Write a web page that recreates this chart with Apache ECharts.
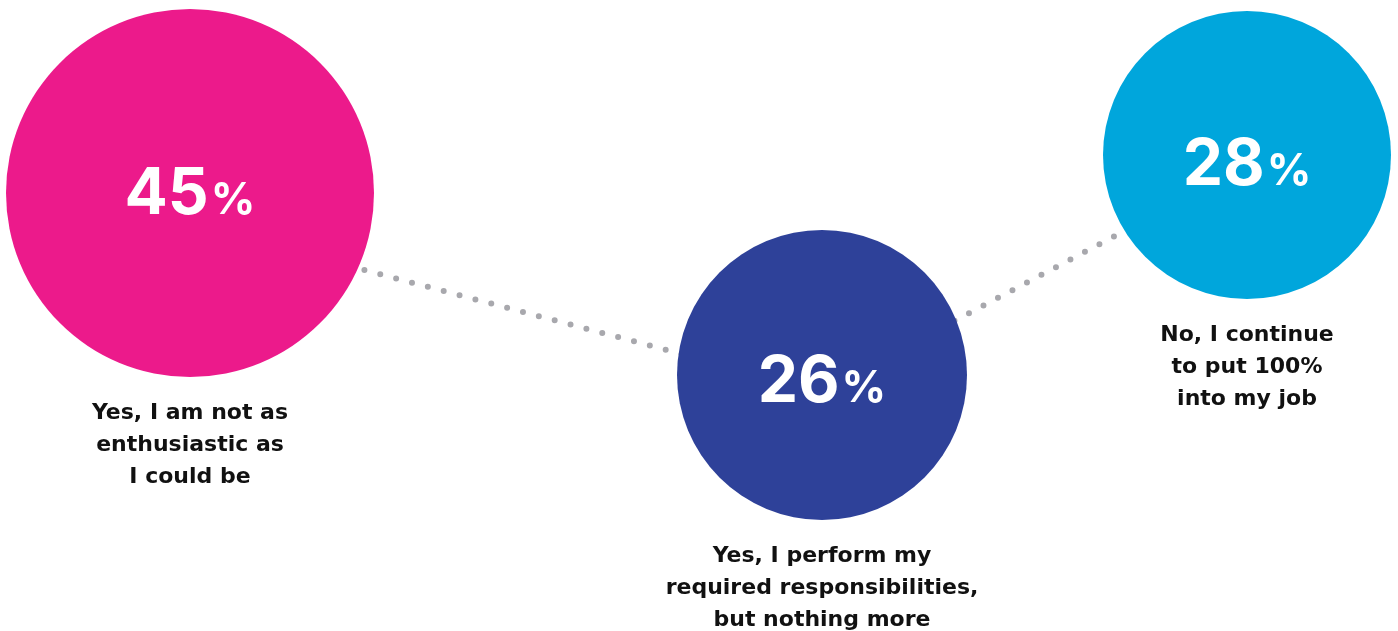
<!DOCTYPE html>
<html>
<head>
<meta charset="utf-8">
<script src="https://cdn.jsdelivr.net/npm/echarts@6/dist/echarts.min.js"></script>
<style>
  html, body { margin: 0; padding: 0; background: #fff; }
  #chart { width: 1398px; height: 631px; }
</style>
</head>
<body>
<div id="chart"></div>
<script>
  // 数据
  const answers = [
    'Yes, I am not as\nenthusiastic as\nI could be',
    'Yes, I perform my\nrequired responsibilities,\nbut nothing more',
    'No, I continue\nto put 100%\ninto my job'
  ];
  const shares = [45, 26, 28];
  const colors = ['#ec1a8b', '#2e4199', '#00a6dc'];

  // 布局 (pixel space)
  const centers = [[190, 193], [822, 375], [1247, 155]];
  const diameters = [368, 290, 288];
  const textShift = [2, 8, 11];
  const connector = [[190, 224], [822, 391], [1247, 166]];

  const chart = echarts.init(document.getElementById('chart'));

  const bubbles = shares.map((v, i) => ({
    name: answers[i],
    value: [centers[i][0], centers[i][1], v],
    symbolSize: diameters[i],
    itemStyle: { color: colors[i], opacity: 1 },
    label: { offset: [0, textShift[i]] }
  }));

  chart.setOption({
    animation: false,
    textStyle: { fontFamily: 'Inter' },
    grid: { left: 0, right: 0, top: 0, bottom: 0 },
    xAxis: { type: 'value', min: 0, max: 1398, show: false },
    yAxis: { type: 'value', min: 0, max: 631, inverse: true, show: false },
    series: [
      {
        type: 'line',
        data: connector,
        symbol: 'none',
        z: 1,
        silent: true,
        lineStyle: { color: '#a8a8ad', width: 6, type: [0, 16.4], cap: 'round' }
      },
      {
        type: 'scatter',
        data: bubbles,
        z: 2,
        emphasis: { disabled: true },
        label: {
          show: true,
          position: 'inside',
          formatter: p => '{n|' + p.value[2] + '}{p|%}',
          rich: {
            n: { color: '#fff', fontSize: 64, fontWeight: 'bold', fontFamily: 'Inter' },
            p: { color: '#fff', fontSize: 44, fontWeight: 'bold', fontFamily: 'Inter', padding: [12, 0, 0, 2] }
          }
        }
      },
      {
        type: 'scatter',
        data: shares.map((v, i) => ({
          name: answers[i],
          value: [centers[i][0], centers[i][1], v],
          symbolSize: diameters[i],
          itemStyle: { color: 'rgba(0,0,0,0)', opacity: 1 }
        })),
        z: 3,
        silent: true,
        label: {
          show: true,
          position: 'bottom',
          distance: 20,
          formatter: p => p.name,
          color: '#111',
          fontSize: 22,
          fontWeight: 'bold',
          fontFamily: 'DejaVu Sans',
          lineHeight: 32,
          align: 'center'
        }
      }
    ]
  });
</script>
</body>
</html>
